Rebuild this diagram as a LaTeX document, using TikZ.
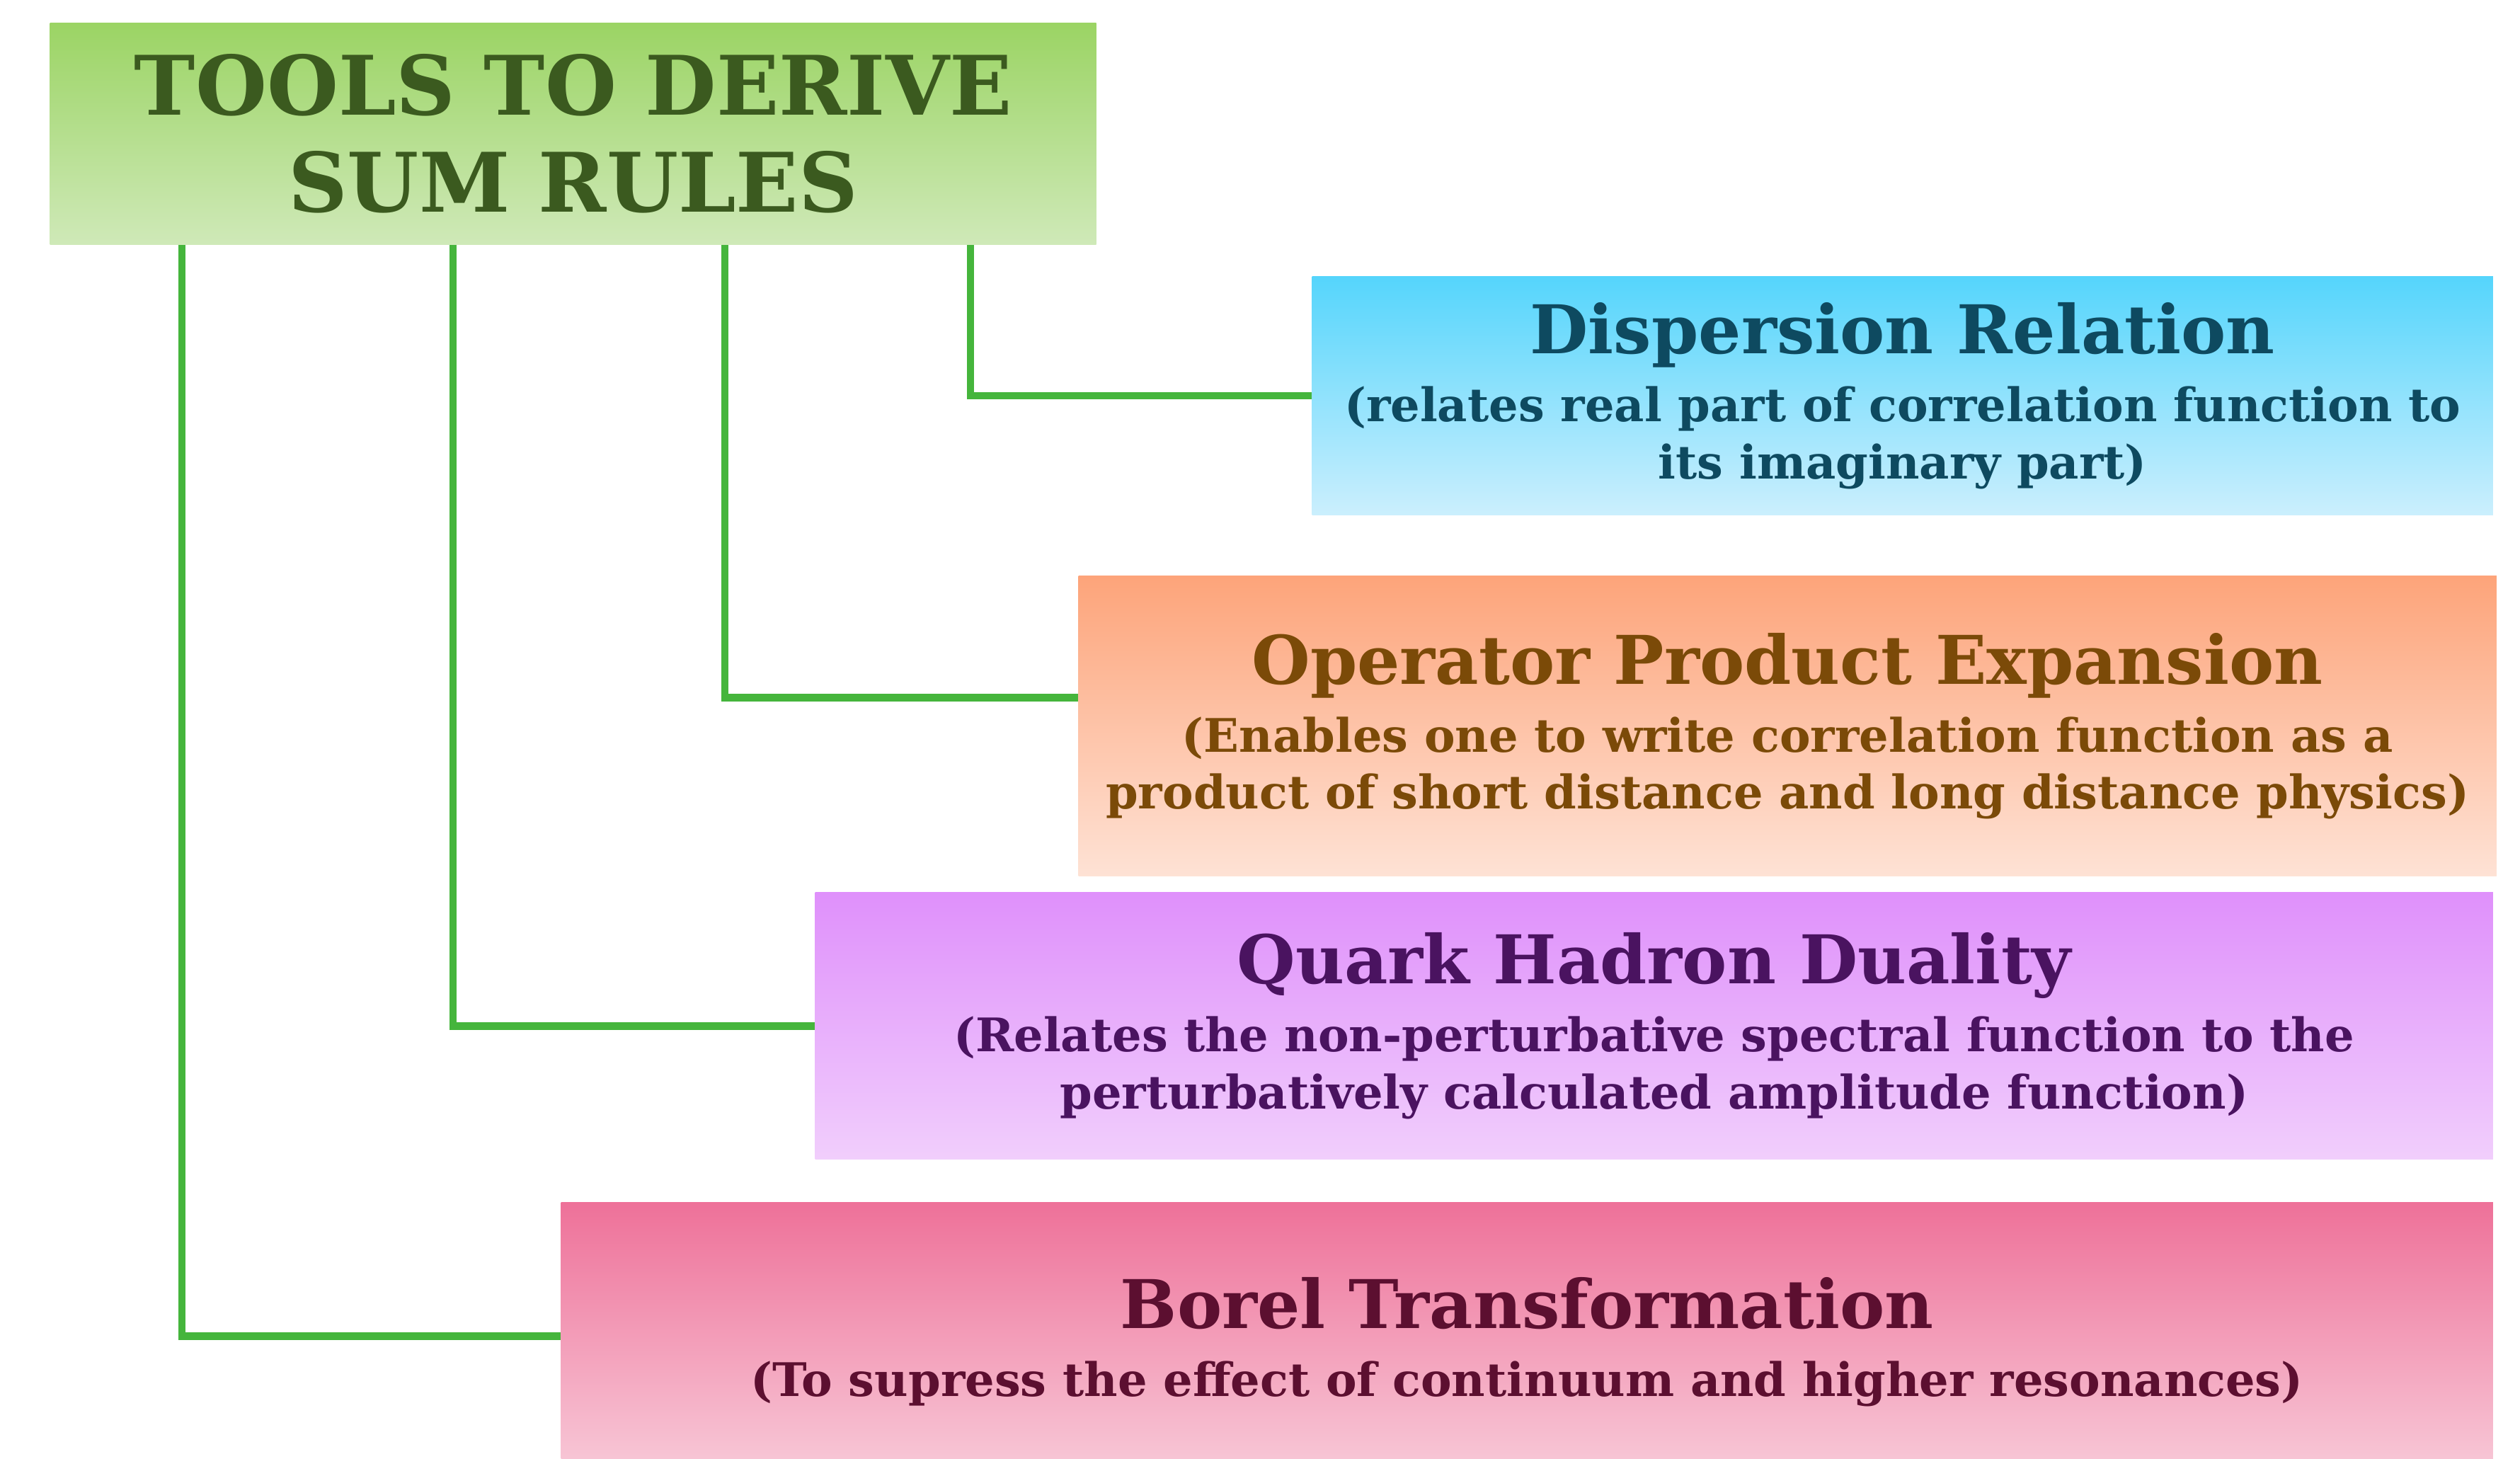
\documentclass[tikz,border=0pt]{standalone}
\usepackage{fontspec}
\setmainfont{DejaVu Serif}
\usetikzlibrary{positioning, calc}
\definecolor{tlLine}{HTML}{45B53C}
\definecolor{tlRootTop}{HTML}{9BD464}
\definecolor{tlRootBot}{HTML}{CFE9B8}
\definecolor{tlRootInk}{HTML}{3B5A1F}
\definecolor{tlDispTop}{HTML}{55D5FC}
\definecolor{tlDispBot}{HTML}{CBEFFD}
\definecolor{tlDispInk}{HTML}{0E4A60}
\definecolor{tlOpeTop}{HTML}{FDA47A}
\definecolor{tlOpeBot}{HTML}{FEE2D5}
\definecolor{tlOpeInk}{HTML}{7B4A08}
\definecolor{tlDualTop}{HTML}{DF90FB}
\definecolor{tlDualBot}{HTML}{F1CEFC}
\definecolor{tlDualInk}{HTML}{4A1360}
\definecolor{tlBorelTop}{HTML}{EE7199}
\definecolor{tlBorelBot}{HTML}{F8CCDA}
\definecolor{tlBorelInk}{HTML}{5C0F30}
\tikzset{
  tlbox/.style={
    top color=#1Top, bottom color=#1Bot, text=#1Ink, draw=none,
    anchor=north west, align=center, inner sep=0pt,
    font=\bfseries\fontsize{18.6}{22.8}\selectfont,
  },
  tlline/.style={
    draw=tlLine, line width=3pt, line join=miter,
  },
}
\newcommand{\tlhead}[1]{{\fontsize{27}{30}\selectfont #1}\\[4.5pt]}
\newcommand{\tlstep}[7]{%
  \node[tlbox=#1, minimum width=#4, minimum height=#5, at={#3}] (#2) {\tlhead{#6}#7};%
}

\begin{document}
\begin{tikzpicture}
\useasboundingbox (0,0) rectangle (35.6,-20.6);

% Root --------------------------------------------------------------------
\node[tlbox=tlRoot, minimum width=14.78cm, minimum height=3.13cm,
  font=\bfseries\fontsize{33}{39}\selectfont, at={(0.70,-0.32)}] (root)
  {TOOLS TO DERIVE\\SUM RULES};

% Tools -------------------------------------------------------------------
\tlstep{tlDisp}{disp}{(18.53,-3.90)}{16.68cm}{3.37cm}{Dispersion Relation}{%
  (relates real part of correlation function to\\its imaginary part)}

\tlstep{tlOpe}{ope}{(15.23,-8.13)}{20.03cm}{4.24cm}{Operator Product Expansion}{%
  (Enables one to write correlation function as a\\product of short distance and long distance physics)}

\tlstep{tlDual}{dual}{(11.51,-12.60)}{23.70cm}{3.77cm}{Quark Hadron Duality}{%
  (Relates the non-perturbative spectral function to the\\perturbatively calculated amplitude function)}

% runs past the bottom edge of the page
\tlstep{tlBorel}{borel}{(7.92,-16.98)}{27.29cm}{3.94cm}{Borel Transformation}{%
  (To supress the effect of continuum and higher resonances)}

% Links -------------------------------------------------------------------
\foreach \dx/\b/\dy in {13.01/disp/0, 9.54/ope/0.40, 5.70/dual/0, 1.87/borel/0.08}{%
  \draw[tlline] ($(root.south west)+(\dx,0)$) |- ($(\b.west)+(0,\dy)$);
}

\end{tikzpicture}
\end{document}
